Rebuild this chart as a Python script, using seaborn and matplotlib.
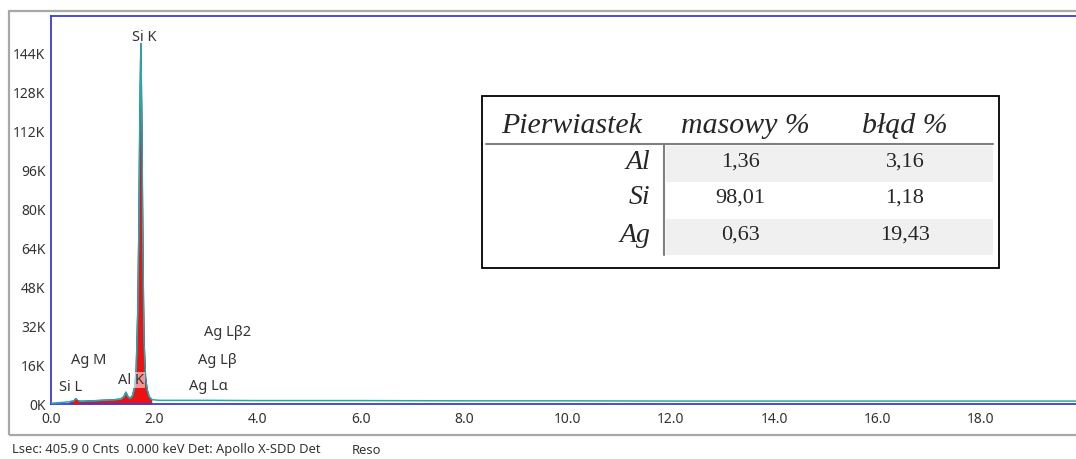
import matplotlib
matplotlib.use("Agg")
import matplotlib.pyplot as plt
from matplotlib.patches import Rectangle
from matplotlib.lines import Line2D
import numpy as np
import pandas as pd
import seaborn as sns

# EDS spectrum: energy (keV) and counts (thousands)
energy_kev = [0.00, 0.20, 0.35, 0.44, 0.48, 0.52, 0.60, 0.80, 1.00, 1.20, 1.35,
              1.41, 1.45, 1.49, 1.53, 1.58, 1.62, 1.65, 1.68, 1.70, 1.72, 1.74,
              1.76, 1.78, 1.80, 1.83, 1.86, 1.90, 1.95, 2.10, 3.00, 4.00, 6.00,
              8.00, 10.00, 12.00, 14.00, 16.00, 18.00, 20.00]
counts_k = [0.3, 0.6, 0.9, 1.2, 2.2, 1.2, 1.1, 1.3, 1.5, 1.7, 2.0,
            3.0, 4.8, 3.0, 2.2, 3.5, 7.0, 14.0, 38.0, 70.0, 118.0, 148.0,
            112.0, 60.0, 26.0, 11.0, 6.0, 3.0, 1.8, 1.5, 1.5, 1.4, 1.4,
            1.3, 1.3, 1.2, 1.2, 1.2, 1.2, 1.2]

# x-ray line labels
line_labels = ["Si K", "Si L", "Ag M", "Al K", "Ag Lα", "Ag Lβ", "Ag Lβ2"]
label_pos = {"Si K": (1.80, 150.5), "Si L": (0.37, 6.6), "Ag M": (0.73, 18.0),
             "Al K": (1.55, 9.8), "Ag Lα": (3.05, 7.0), "Ag Lβ": (3.22, 17.7),
             "Ag Lβ2": (3.42, 29.2)}

# composition table
elements = ["Al", "Si", "Ag"]
mass_pct = ["1,36", "98,01", "0,63"]
error_pct = ["3,16", "1,18", "19,43"]
headers = ["Pierwiastek", "masowy %", "błąd %"]

yticks_k = [0, 16, 32, 48, 64, 80, 96, 112, 128, 144]
xticks_kev = [0, 2, 4, 6, 8, 10, 12, 14, 16, 18]
footer = "Lsec: 405.9 0 Cnts  0.000 keV Det: Apollo X-SDD Det"

sns.set_style("white")
plt.rcParams["font.family"] = ["Noto Sans", "DejaVu Sans"]

W, H = 1076, 459
fig = plt.figure(figsize=(W / 100, H / 100), dpi=100)


def fx(px):
    return px / W


def fy(py):
    return 1 - py / H


# outer gray frame of the window
fig.add_artist(Rectangle((fx(9), fy(435)), fx(1200) - fx(9), fy(11) - fy(435),
                         transform=fig.transFigure, fill=False,
                         edgecolor="#a8a8a8", linewidth=1.6))

ax = fig.add_axes([fx(51), fy(404), fx(1084) - fx(51), fy(16) - fy(404)])
df = pd.DataFrame({"energy": energy_kev, "counts": counts_k})

low = df[(df.energy >= 0.3) & (df.energy <= 2.0)]
ax.fill_between(low.energy, 0, low.counts, color="#ee1111", linewidth=0, zorder=2)
sns.lineplot(data=low, x="energy", y="counts", ax=ax, color="#3a2a7a",
             linewidth=1.0, zorder=3)
sns.lineplot(data=df, x="energy", y="counts", ax=ax, color="#2aa8a8",
             linewidth=1.1, zorder=4)
ax.plot([0.48], [1.0], marker="o", markersize=2.5, color="#ee1111", zorder=5)

ax.set_xlim(0, 20)
ax.set_ylim(0, 159.3)
ax.set_xticks(xticks_kev)
ax.set_xticklabels([f"{v:.1f}" for v in xticks_kev])
ax.set_yticks(yticks_k)
ax.set_yticklabels([f"{v}K" for v in yticks_k])
ax.set_xlabel("")
ax.set_ylabel("")
ax.tick_params(axis="both", labelsize=10, colors="#333333", length=3, width=0.8)
ax.tick_params(axis="x", pad=3)
ax.tick_params(axis="y", pad=1)
for side in ["left", "top", "bottom"]:
    ax.spines[side].set_color("#3b3bdc")
    ax.spines[side].set_linewidth(1.3)
ax.spines["right"].set_visible(False)

for name in line_labels:
    x, y = label_pos[name]
    kw = {}
    if name == "Al K":
        kw["bbox"] = dict(boxstyle="square,pad=0.05", facecolor="white",
                          edgecolor="none", alpha=0.55)
    ax.text(x, y, name, ha="center", va="center", fontsize=10.5,
            color="#333333", zorder=6, **kw)

# footer status line
fig.text(fx(12), fy(450), footer, fontsize=9.3, color="#333333", va="center")
fig.text(fx(352), fy(450), "Reso", fontsize=9.3, color="#333333", va="center")

# composition table
fig.add_artist(Rectangle((fx(482), fy(268)), fx(999) - fx(482), fy(96) - fy(268),
                         transform=fig.transFigure, facecolor="white",
                         edgecolor="black", linewidth=1.3, zorder=10))
for top, bot in [(146, 182), (219, 255)]:
    fig.add_artist(Rectangle((fx(666), fy(bot)), fx(993) - fx(666), fy(top) - fy(bot),
                             transform=fig.transFigure, facecolor="#f0f0f0",
                             edgecolor="none", zorder=11))
fig.add_artist(Line2D([fx(486), fx(993)], [fy(144), fy(144)],
                      transform=fig.transFigure, color="#808080", linewidth=1.5, zorder=12))
fig.add_artist(Line2D([fx(664), fx(664)], [fy(145), fy(255)],
                      transform=fig.transFigure, color="#808080", linewidth=1.5, zorder=12))

serif = ["Liberation Serif", "DejaVu Serif"]
head_x = [572, 745, 905]
for hx, h in zip(head_x, headers):
    fig.text(fx(hx), fy(126), h, fontsize=21.5, style="italic", family=serif,
             ha="center", va="center", zorder=13)
row_y = [162, 198, 235]
for ry, el, m, e in zip(row_y, elements, mass_pct, error_pct):
    fig.text(fx(650), fy(ry), el, fontsize=20, style="italic", family=serif,
             ha="right", va="center", zorder=13)
    fig.text(fx(740), fy(ry), m, fontsize=16, family=serif,
             ha="center", va="center", zorder=13)
    fig.text(fx(905), fy(ry), e, fontsize=16, family=serif,
             ha="center", va="center", zorder=13)

fig.savefig("out.png", dpi=100)
